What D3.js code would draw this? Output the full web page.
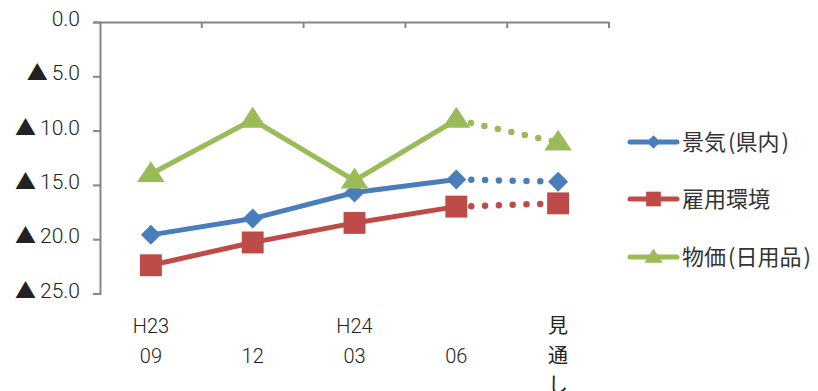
<!DOCTYPE html>
<html>
<head>
<meta charset="utf-8">
<script src="https://cdn.jsdelivr.net/npm/d3@7"></script>
<style>
  html, body { margin: 0; padding: 0; background: #fff; }
  svg { display: block; }
  .num { font-family: Roboto, "Liberation Sans", sans-serif; font-weight: 300; }
  .jp { font-family: "Noto Sans CJK JP", sans-serif; }
</style>
</head>
<body>
<svg id="chart" width="818" height="391"></svg>
<script>
// Survey periods (multi-line category labels)
const categories = ["H23-09", "H23-12", "H24-03", "H24-06", "見通し"];
const categoryLines = [["H23", "09"], ["", "12"], ["H24", "03"], ["", "06"], ["見", "通", "し"]];

// Diffusion indexes (negative values shown with ▲), one array per series
const seriesNames = [["景気", "(", "県内", ")"], ["雇用環境"], ["物価", "(", "日用品", ")"]];
const keiki  = [19.6, 18.1, 15.7, 14.5, 14.7];
const koyou  = [22.4, 20.3, 18.5, 17.0, 16.7];
const bukka  = [14.0, 9.0, 14.6, 9.0, 11.1];
const seriesColors = ["#4A7EBB", "#BE4B48", "#9BBB59"];
const seriesMarkers = ["diamond", "square", "triangle"];

const yTicks = [0, 5, 10, 15, 20, 25];

const svg = d3.select("#chart");
const plot = { left: 100, right: 609, top: 22, bottom: 293.5 };

const x = d3.scaleBand().domain(categories).range([plot.left, plot.right]).paddingInner(0).paddingOuter(0);
const y = d3.scaleLinear().domain([0, 25]).range([plot.top, plot.bottom]);
const cx = c => x(c) + x.bandwidth() / 2;

const axisColor = "#868686";
const textColor = "#222";

// Value axis on the left
const yAxis = svg.append("g")
  .attr("transform", `translate(${plot.left},0)`)
  .call(d3.axisLeft(y).tickValues(yTicks).tickFormat("").tickSize(7));
yAxis.select(".domain").attr("stroke", axisColor).attr("stroke-width", 2);
yAxis.selectAll(".tick line").attr("stroke", axisColor).attr("stroke-width", 2);
yAxis.selectAll(".tick text").remove();
yAxis.selectAll(".tick").each(function (v) {
  const t = d3.select(this).append("text")
    .attr("x", -20)
    .attr("dy", "0.36em")
    .attr("text-anchor", "end")
    .attr("fill", textColor);
  if (v !== 0) {
    t.append("tspan").attr("class", "jp").style("font-size", "21px").text("▲");
  }
  t.append("tspan").attr("class", "num").style("font-size", "21px")
    .attr("dx", v !== 0 ? 4 : 0)
    .text(v.toFixed(1));
});

// Category axis along the zero line at the top, ticks pointing down
const xAxis = svg.append("g")
  .attr("transform", `translate(0,${y(0)})`)
  .call(d3.axisBottom(x).tickSize(0).tickFormat(""));
xAxis.select(".domain").attr("stroke", axisColor).attr("stroke-width", 2);
xAxis.selectAll(".tick").remove();
xAxis.selectAll("line.sep")
  .data(categories)
  .join("line")
  .attr("class", "sep")
  .attr("x1", c => x(c) + x.bandwidth()).attr("x2", c => x(c) + x.bandwidth())
  .attr("y1", 0).attr("y2", 6)
  .attr("stroke", axisColor).attr("stroke-width", 2);

// Category labels below the plot
const labels = svg.append("g");
categories.forEach((c, i) => {
  const t = labels.append("text")
    .attr("x", cx(c))
    .attr("y", 333)
    .attr("text-anchor", "middle")
    .attr("fill", textColor)
    .style("font-size", "20px");
  categoryLines[i].forEach((line, j) => {
    t.append("tspan")
      .attr("class", /[0-9A-Z]/.test(line) ? "num" : "jp")
      .attr("x", cx(c))
      .attr("y", 333 + j * 29.5)
      .text(line);
  });
});

// Marker shapes
const markerPath = (m, scale) => {
  if (m === "diamond") return d3.symbol().type(d3.symbolSquare).size(200 * scale)();
  if (m === "square") return d3.symbol().type(d3.symbolSquare).size(480 * scale)();
  return d3.symbol().type(d3.symbolTriangle).size(250 * scale)();
};
const markerTransform = m =>
  m === "diamond" ? " rotate(45)" : m === "triangle" ? " translate(0,1) scale(1.15,1)" : "";

const allSeries = [keiki, koyou, bukka];
const lineGen = d3.line().x(d => cx(d.c)).y(d => y(d.v));

allSeries.forEach((vals, s) => {
  const pts = vals.map((v, i) => ({ c: categories[i], v }));
  const g = svg.append("g");
  // Observed periods: solid line
  g.append("path")
    .attr("d", lineGen(pts.slice(0, 4)))
    .attr("fill", "none")
    .attr("stroke", seriesColors[s])
    .attr("stroke-width", 5)
    .attr("stroke-linejoin", "round");
  // Outlook: round dotted line
  g.append("path")
    .attr("d", lineGen(pts.slice(3)))
    .attr("fill", "none")
    .attr("stroke", seriesColors[s])
    .attr("stroke-width", 6.5)
    .attr("stroke-linecap", "round")
    .attr("stroke-dasharray", "0 13.8")
    .attr("stroke-dashoffset", -15);
  // Markers
  const m = seriesMarkers[s];
  g.selectAll("path.mk")
    .data(pts)
    .join("path")
    .attr("class", "mk")
    .attr("d", markerPath(m, 1))
    .attr("transform", d => `translate(${cx(d.c)},${y(d.v)})${markerTransform(m)}`)
    .attr("fill", seriesColors[s]);
});

// Legend
const legend = svg.append("g");
const legendY = [142, 199, 257];
seriesNames.forEach((parts, s) => {
  const gy = legendY[s];
  legend.append("line")
    .attr("x1", 630).attr("x2", 677)
    .attr("y1", gy).attr("y2", gy)
    .attr("stroke", seriesColors[s])
    .attr("stroke-width", 5)
    .attr("stroke-linecap", "round");
  const m = seriesMarkers[s];
  legend.append("path")
    .attr("d", markerPath(m, 0.45))
    .attr("transform", `translate(653.5,${gy})${markerTransform(m)}`)
    .attr("fill", seriesColors[s]);
  const t = legend.append("text")
    .attr("class", "jp")
    .attr("x", 682)
    .attr("y", gy)
    .attr("dy", "0.36em")
    .attr("fill", "#333")
    .style("font-size", "22px");
  parts.forEach(p => {
    const paren = p === "(" || p === ")";
    t.append("tspan")
      .attr("dx", paren ? 2 : 0)
      .text(p);
  });
});
</script>
</body>
</html>
